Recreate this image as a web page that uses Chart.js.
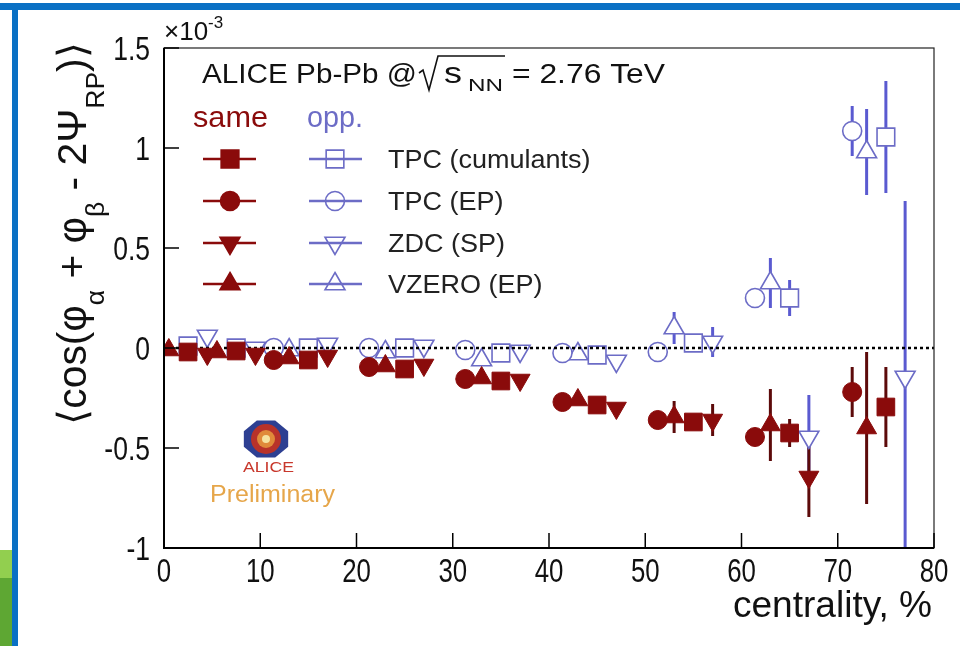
<!DOCTYPE html>
<html lang="en">
<head>
<meta charset="UTF-8">
<title>ALICE Pb-Pb charge-dependent correlator</title>
<script src="https://cdn.jsdelivr.net/npm/chart.js"></script>
<style>
  html, body { margin: 0; padding: 0; background: #fff; }
</style>
</head>
<body>
<canvas id="chart" width="960" height="646"></canvas>

<script>
    // centrality (%) of each point, shifted inside the bin per method
    const xCumulants = [2.5, 7.5, 15, 25, 35, 45, 55, 65, 75];
    const xEP = [11.4, 21.3, 31.3, 41.4, 51.3, 61.4, 71.5];
    const xZDC = [4.5, 9.5, 17, 27, 37, 47, 57, 67, 77];
    const xVZERO = [0.5, 5.5, 13, 23, 33, 43, 53, 63, 73];

    // same-charge pairs, units of 1e-3
    const sameCumulants = [-0.02, -0.015, -0.06, -0.105, -0.165, -0.285, -0.37, -0.425, -0.295];
    const sameCumulantsErr = [0.01, 0.01, 0.01, 0.01, 0.01, 0.015, 0.02, 0.07, 0.2];
    const sameEP = [-0.06, -0.095, -0.155, -0.27, -0.36, -0.445, -0.22];
    const sameEPErr = [0.01, 0.01, 0.01, 0.015, 0.02, 0.03, 0.125];
    const sameZDC = [-0.03, -0.03, -0.04, -0.085, -0.16, -0.30, -0.36, -0.645, null];
    const sameZDCErr = [0.01, 0.01, 0.01, 0.01, 0.015, 0.02, 0.08, 0.2, null];
    const sameVZERO = [-0.01, -0.02, -0.05, -0.09, -0.15, -0.26, -0.345, -0.385, -0.40];
    const sameVZEROErr = [0.01, 0.01, 0.01, 0.01, 0.015, 0.02, 0.08, 0.18, 0.38];

    // opposite-charge pairs
    const oppCumulants = [0.01, 0.0, 0.0, 0.0, -0.025, -0.035, 0.025, 0.25, 1.055];
    const oppCumulantsErr = [0.01, 0.01, 0.01, 0.01, 0.01, 0.015, 0.02, 0.09, 0.28];
    const oppEP = [0.0, 0.0, -0.01, -0.025, -0.02, 0.25, 1.085];
    const oppEPErr = [0.01, 0.01, 0.01, 0.015, 0.02, 0.03, 0.125];
    const oppZDC = [0.06, 0.0, 0.02, 0.01, -0.015, -0.065, 0.03, -0.445, -0.145];
    const oppZDCErr = [0.01, 0.01, 0.01, 0.01, 0.015, 0.02, 0.075, 0.21, 0.88];
    const oppVZERO = [null, null, -0.01, -0.02, -0.06, -0.03, 0.10, 0.325, 0.98];
    const oppVZEROErr = [null, null, 0.01, 0.01, 0.015, 0.02, 0.08, 0.125, 0.215];

    const xTicks = [0, 10, 20, 30, 40, 50, 60, 70, 80];
    const xTickLabels = ['0', '10', '20', '30', '40', '50', '60', '70', '80'];
    const yTicks = [-1, -0.5, 0, 0.5, 1, 1.5];
    const yTickLabels = ['-1', '-0.5', '0', '0.5', '1', '1.5'];

    const legendRows = ['TPC (cumulants)', 'TPC (EP)', 'ZDC (SP)', 'VZERO (EP)'];

    const SAME = '#8a0b0b', SAME_ERR = '#5c0a0a';
    const OPP = '#6c6cc6', OPP_ERR = '#5a5ad0';
    const FONT = '"Liberation Sans", Arial, sans-serif';

    function points(xs, ys, errs) {
        const out = [];
        xs.forEach((x, i) => {
            if (ys[i] !== null) out.push({x: x, y: ys[i], err: errs[i]});
        });
        return out;
    }

    function sameSet(label, data, style, r, rot) {
        return {
            label: label, data: data, order: 1,
            pointStyle: style, pointRadius: r, pointRotation: rot,
            backgroundColor: SAME, borderColor: SAME, borderWidth: 1,
            errorColor: SAME_ERR
        };
    }

    function oppSet(label, data, style, r, rot) {
        return {
            label: label, data: data, order: 2,
            pointStyle: style, pointRadius: r, pointRotation: rot,
            backgroundColor: '#ffffff', borderColor: OPP, borderWidth: 1.6,
            errorColor: OPP_ERR
        };
    }

    // marker for the hand-made legend
    function marker(ctx, style, x, y, r, rot, fill, stroke) {
        ctx.save();
        ctx.translate(x, y);
        ctx.rotate(rot * Math.PI / 180);
        ctx.beginPath();
        if (style === 'rect') {
            const s = r * Math.SQRT1_2;
            ctx.rect(-s, -s, 2 * s, 2 * s);
        } else if (style === 'circle') {
            ctx.arc(0, 0, r, 0, Math.PI * 2);
        } else {
            ctx.moveTo(0, -r);
            ctx.lineTo(r * Math.sin(Math.PI * 2 / 3), r * 0.5);
            ctx.lineTo(-r * Math.sin(Math.PI * 2 / 3), r * 0.5);
            ctx.closePath();
        }
        if (fill) { ctx.fillStyle = fill; ctx.fill(); }
        if (stroke) { ctx.strokeStyle = stroke; ctx.lineWidth = 1.6; ctx.stroke(); }
        ctx.restore();
    }

    // text with subscripts (k=1) and superscripts (k=2), squeezed or
    // stretched horizontally to a given width when width is set
    function rich(ctx, parts, x, y, size, width, subShift) {
        const shift = subShift || 0.3;
        const fontOf = k => (k ? Math.round(size * 0.64) : size) + 'px ' + FONT;
        let natural = 0;
        parts.forEach(p => { ctx.font = fontOf(p[1]); natural += ctx.measureText(p[0]).width; });
        const sx = width ? width / natural : 1;
        ctx.save();
        ctx.translate(x, y);
        ctx.scale(sx, 1);
        let cx = 0;
        parts.forEach(p => {
            const k = p[1];
            ctx.font = fontOf(k);
            const dy = k === 1 ? size * shift : (k === 2 ? -size * 0.45 : 0);
            ctx.fillText(p[0], cx, dy);
            cx += ctx.measureText(p[0]).width;
        });
        ctx.restore();
        return x + natural * sx;
    }

    // narrow axis numbers
    function narrow(ctx, text, x, y, size, sx, align) {
        ctx.save();
        ctx.font = size + 'px ' + FONT;
        const w = ctx.measureText(text).width * sx;
        const left = align === 'right' ? x - w : (align === 'center' ? x - w / 2 : x);
        ctx.translate(left, y);
        ctx.scale(sx, 1);
        ctx.textAlign = 'left';
        ctx.fillText(text, 0, 0);
        ctx.restore();
    }

    let zeroDrawn = false;

    function drawZeroLine(chart) {
        const {ctx, chartArea, scales: {y}} = chart;
        const py = y.getPixelForValue(0);
        ctx.save();
        ctx.strokeStyle = '#000';
        ctx.lineWidth = 2.5;
        ctx.setLineDash([3, 3]);
        ctx.beginPath();
        ctx.moveTo(chartArea.left, py);
        ctx.lineTo(chartArea.right, py);
        ctx.stroke();
        ctx.restore();
    }

    const decor = {
        id: 'decor',
        beforeDraw(chart) {
            const ctx = chart.ctx;
            ctx.save();
            ctx.fillStyle = '#fff';
            ctx.fillRect(0, 0, 960, 646);
            // slide frame
            ctx.fillStyle = '#0a70c4';
            ctx.fillRect(0, 3, 960, 7);
            ctx.fillRect(12, 3, 6, 643);
            ctx.fillStyle = '#92cf4f';
            ctx.fillRect(0, 550, 12, 28);
            ctx.fillStyle = '#5ea733';
            ctx.fillRect(0, 578, 12, 68);
            ctx.restore();
        },
        beforeDatasetsDraw(chart) {
            const {ctx, chartArea, scales: {x, y}} = chart;
            zeroDrawn = false;
            ctx.save();
            ctx.beginPath();
            ctx.rect(chartArea.left, chartArea.top, chartArea.width, chartArea.height);
            ctx.clip();
            ctx.lineWidth = 3;
            chart.data.datasets.forEach(ds => {
                ctx.strokeStyle = ds.errorColor;
                ds.data.forEach(p => {
                    const px = x.getPixelForValue(p.x);
                    ctx.beginPath();
                    ctx.moveTo(px, y.getPixelForValue(p.y + p.err));
                    ctx.lineTo(px, y.getPixelForValue(p.y - p.err));
                    ctx.stroke();
                });
            });
            ctx.restore();
        },
        beforeDatasetDraw(chart, args) {
            // dotted zero line goes between the open and the filled markers
            if (!zeroDrawn && chart.data.datasets[args.index].order === 1) {
                drawZeroLine(chart);
                zeroDrawn = true;
            }
        },
        afterDraw(chart) {
            const {ctx, chartArea: a, scales: {x, y}} = chart;
            ctx.save();

            // frame and inward ticks
            ctx.strokeStyle = '#222';
            ctx.lineWidth = 1.2;
            ctx.strokeRect(a.left, a.top, a.right - a.left, a.bottom - a.top);
            ctx.strokeStyle = '#000';
            ctx.lineWidth = 2;
            ctx.beginPath();
            ctx.moveTo(a.left, a.top);
            ctx.lineTo(a.left, a.bottom);
            ctx.lineTo(a.right, a.bottom);
            ctx.stroke();
            ctx.lineWidth = 1.5;
            xTicks.forEach(v => {
                const px = x.getPixelForValue(v);
                ctx.beginPath();
                ctx.moveTo(px, a.bottom);
                ctx.lineTo(px, a.bottom - 15);
                ctx.stroke();
            });
            yTicks.forEach(v => {
                const py = y.getPixelForValue(v);
                ctx.beginPath();
                ctx.moveTo(a.left, py);
                ctx.lineTo(a.left + 15, py);
                ctx.stroke();
            });

            ctx.fillStyle = '#111';
            ctx.textBaseline = 'alphabetic';

            // tick numbers, placed by the scales
            xTicks.forEach((v, i) => {
                narrow(ctx, xTickLabels[i], x.getPixelForValue(v), a.bottom + 34, 34, 0.76, 'center');
            });
            yTicks.forEach((v, i) => {
                narrow(ctx, yTickLabels[i], a.left - 14, y.getPixelForValue(v) + 12, 34, 0.78, 'right');
            });

            // exponent above the y axis
            rich(ctx, [['\u00d710', 0], ['-3', 2]], 164, 40, 26);

            // y axis title, rotated
            ctx.save();
            ctx.translate(86, 425);
            ctx.rotate(-Math.PI / 2);
            rich(ctx, [['\u27e8cos(\u03c6', 0], ['\u03b1', 1], [' + \u03c6', 0], ['\u03b2', 1],
                       [' - 2\u03a8', 0], ['RP', 1], [')\u27e9', 0]], 0, 0, 40, 383, 0.45);
            ctx.restore();

            // x axis title
            rich(ctx, [['centrality, %', 0]], 733, 617, 36, 199);

            // system label with sqrt(s_NN)
            rich(ctx, [['ALICE Pb-Pb @', 0]], 202, 83, 27, 215);
            ctx.strokeStyle = '#111';
            ctx.lineWidth = 1.6;
            ctx.beginPath();
            ctx.moveTo(419, 73);
            ctx.lineTo(423, 70);
            ctx.lineTo(429, 90);
            ctx.lineTo(438, 56);
            ctx.lineTo(505, 56);
            ctx.stroke();
            rich(ctx, [['s', 0]], 444, 83, 29, 18);
            rich(ctx, [['NN', 0]], 468, 91, 17, 35);
            rich(ctx, [['= 2.76 TeV', 0]], 512, 83, 27, 153);

            // legend
            ctx.fillStyle = SAME;
            rich(ctx, [['same', 0]], 193, 127, 30, 75);
            ctx.fillStyle = OPP;
            rich(ctx, [['opp.', 0]], 307, 127, 30, 56);
            const styles = [['rect', 12.5, 0], ['circle', 9.5, 0], ['triangle', 11.5, 180], ['triangle', 11.5, 0]];
            const rowY = [159, 201, 243, 284];
            legendRows.forEach((t, i) => {
                const [st, r, rot] = styles[i];
                ctx.lineWidth = 2.5;
                ctx.strokeStyle = SAME;
                ctx.beginPath(); ctx.moveTo(203, rowY[i]); ctx.lineTo(256, rowY[i]); ctx.stroke();
                marker(ctx, st, 230, rowY[i], r, rot, SAME, SAME);
                ctx.strokeStyle = OPP;
                ctx.beginPath(); ctx.moveTo(309, rowY[i]); ctx.lineTo(362, rowY[i]); ctx.stroke();
                marker(ctx, st, 335, rowY[i], r, rot, null, OPP);
                ctx.fillStyle = '#222';
                ctx.font = '25px ' + FONT;
                const w = ctx.measureText(t).width * 1.08;
                rich(ctx, [[t, 0]], 388, rowY[i] + 9, 25, w);
            });

            // ALICE logo
            ctx.save();
            ctx.translate(266, 439);
            ctx.beginPath();
            for (let k = 0; k < 8; k++) {
                const ang = Math.PI / 8 + k * Math.PI / 4;
                ctx.lineTo(24 * Math.cos(ang), 20 * Math.sin(ang));
            }
            ctx.closePath();
            ctx.fillStyle = '#2d3f92';
            ctx.fill();
            ctx.beginPath();
            ctx.arc(0, 0, 15, 0, Math.PI * 2);
            ctx.fillStyle = '#b8322a';
            ctx.fill();
            ctx.beginPath();
            ctx.arc(0, 0, 9, 0, Math.PI * 2);
            ctx.fillStyle = '#e08a3a';
            ctx.fill();
            ctx.beginPath();
            ctx.arc(0, 0, 4, 0, Math.PI * 2);
            ctx.fillStyle = '#f6e3a0';
            ctx.fill();
            ctx.restore();
            ctx.fillStyle = '#c8382c';
            rich(ctx, [['ALICE', 0]], 243, 472, 15, 51);
            ctx.fillStyle = '#e6a64a';
            rich(ctx, [['Preliminary', 0]], 210, 502, 23, 125);
            ctx.restore();
        }
    };

    new Chart(document.getElementById('chart'), {
        type: 'scatter',
        data: {
            datasets: [
                oppSet('TPC (cumulants) opp.', points(xCumulants, oppCumulants, oppCumulantsErr), 'rect', 12.5, 0),
                oppSet('TPC (EP) opp.', points(xEP, oppEP, oppEPErr), 'circle', 9.5, 0),
                oppSet('ZDC (SP) opp.', points(xZDC, oppZDC, oppZDCErr), 'triangle', 11.5, 180),
                oppSet('VZERO (EP) opp.', points(xVZERO, oppVZERO, oppVZEROErr), 'triangle', 11.5, 0),
                sameSet('TPC (cumulants) same', points(xCumulants, sameCumulants, sameCumulantsErr), 'rect', 12.5, 0),
                sameSet('TPC (EP) same', points(xEP, sameEP, sameEPErr), 'circle', 9.5, 0),
                sameSet('ZDC (SP) same', points(xZDC, sameZDC, sameZDCErr), 'triangle', 11.5, 180),
                sameSet('VZERO (EP) same', points(xVZERO, sameVZERO, sameVZEROErr), 'triangle', 11.5, 0)
            ]
        },
        options: {
            responsive: false,
            animation: false,
            events: [],
            layout: {padding: {left: 0, top: 48, right: 26, bottom: 0}},
            plugins: {legend: {display: false}, tooltip: {enabled: false}},
            scales: {
                x: {
                    type: 'linear', min: 0, max: 80,
                    grid: {display: false}, border: {display: false},
                    ticks: {display: false},
                    afterFit: s => { s.height = 98; }
                },
                y: {
                    type: 'linear', min: -1, max: 1.5,
                    grid: {display: false}, border: {display: false},
                    ticks: {display: false},
                    afterFit: s => { s.width = 164; }
                }
            }
        },
        plugins: [decor]
    });
</script>
</body>
</html>
